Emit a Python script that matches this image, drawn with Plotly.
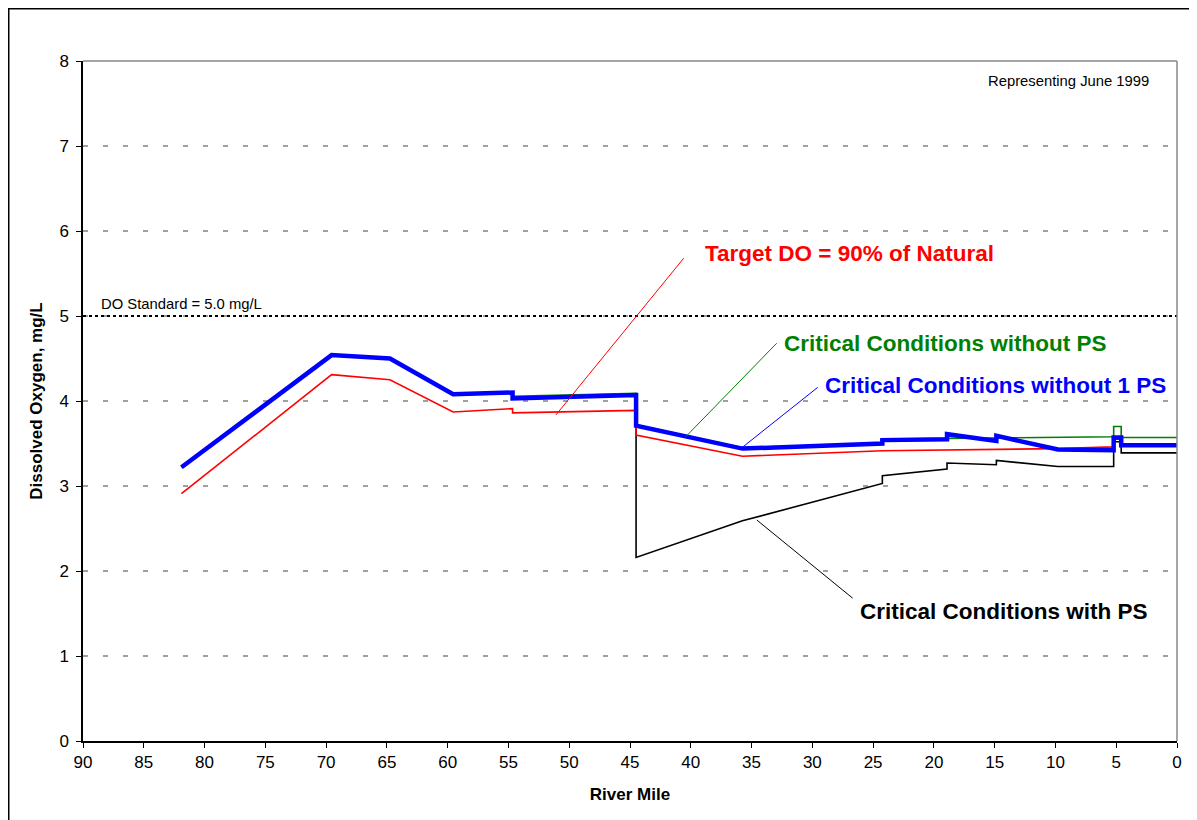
import plotly.graph_objects as go

# River mile / DO data
blue_mile = [81.9, 69.55, 64.75, 59.55, 54.66, 54.66, 44.5, 44.5, 35.75, 24.24, 24.24, 18.92, 18.92, 14.86, 14.86, 9.8, 5.21, 5.21, 4.59, 4.59, 0]
blue_do = [3.22, 4.54, 4.50, 4.08, 4.10, 4.03, 4.07, 3.71, 3.44, 3.50, 3.54, 3.55, 3.61, 3.53, 3.59, 3.43, 3.42, 3.57, 3.57, 3.48, 3.48]

green_mile = [81.9, 69.55, 64.75, 59.55, 54.66, 54.66, 44.5, 44.5, 35.75, 24.24, 24.24, 18.92, 5.21, 5.21, 4.59, 4.59, 0]
green_do = [3.22, 4.54, 4.50, 4.08, 4.10, 4.055, 4.09, 3.72, 3.45, 3.50, 3.54, 3.56, 3.58, 3.70, 3.70, 3.57, 3.57]

red_mile = [81.9, 69.55, 64.75, 59.55, 54.66, 54.66, 44.5, 44.5, 35.75, 24.24, 9.8, 5.21, 5.21, 4.59, 4.59, 0]
red_do = [2.91, 4.31, 4.25, 3.87, 3.91, 3.86, 3.89, 3.60, 3.35, 3.415, 3.44, 3.46, 3.55, 3.55, 3.47, 3.47]

black_mile = [44.5, 44.5, 35.75, 24.24, 24.24, 18.92, 18.92, 14.86, 14.86, 9.8, 5.21, 5.21, 4.59, 4.59, 0]
black_do = [3.68, 2.16, 2.59, 3.03, 3.12, 3.20, 3.27, 3.25, 3.30, 3.23, 3.23, 3.52, 3.52, 3.39, 3.39]

do_standard = 5.0
x_ticks = list(range(0, 91, 5))
y_ticks = list(range(0, 9))

FONT = "Liberation Sans, Arial, sans-serif"

fig = go.Figure()
fig.add_trace(go.Scatter(x=black_mile, y=black_do, mode="lines", line=dict(color="#000000", width=1.6), showlegend=False))
fig.add_trace(go.Scatter(x=red_mile, y=red_do, mode="lines", line=dict(color="#ff0000", width=1.6), showlegend=False))
fig.add_trace(go.Scatter(x=green_mile, y=green_do, mode="lines", line=dict(color="#008000", width=1.6), showlegend=False))
fig.add_trace(go.Scatter(x=blue_mile, y=blue_do, mode="lines", line=dict(color="#0000ff", width=4.5), showlegend=False))
fig.add_trace(go.Scatter(x=[90, 0], y=[do_standard, do_standard], mode="lines",
                         line=dict(color="#000000", width=2, dash="3px,3px"), showlegend=False))

# Outer frame (figure starts at page offset 8px)
fig.add_shape(type="rect", xref="paper", yref="paper",
              x0=(8.5 - 83) / 1094, x1=(1240 - 83) / 1094,
              y0=(741 - 860) / 680, y1=(741 - 8.5) / 680,
              line=dict(color="#000000", width=2), layer="below")
# top & right gray borders of plot area
fig.add_shape(type="line", xref="paper", yref="paper", x0=0, x1=1, y0=1, y1=1, line=dict(color="#888888", width=1.5))
fig.add_shape(type="line", xref="paper", yref="paper", x0=1, x1=1, y0=0, y1=1, line=dict(color="#888888", width=1.5))

def leader(x0, y0, x1, y1, color):
    fig.add_shape(type="line", x0=x0, y0=y0, x1=x1, y1=y1, line=dict(color=color, width=1))

leader(40.58, 5.68, 51.1, 3.835, "#ff0000")
leader(32.93, 4.68, 40.41, 3.58, "#008000")
leader(29.56, 4.16, 35.8, 3.45, "#0000ff")
leader(26.68, 1.68, 34.57, 2.60, "#000000")

def label(x, y, text, color, size=20, bold=True, xanchor="left"):
    fig.add_annotation(x=x, y=y, text=f"<b>{text}</b>" if bold else text, showarrow=False,
                       xanchor=xanchor, yanchor="middle",
                       font=dict(family=FONT, size=size, color=color))

label(39.0, 5.73, "Target DO = 90% of Natural", "#ff0000", 22.5)
label(32.52, 4.68, "Critical Conditions without PS", "#008000", 22.5)
label(29.14, 4.18, "Critical Conditions without 1 PS", "#0000ff", 22.5)
label(26.27, 1.52, "Critical Conditions with PS", "#000000", 22.5)
label(88.7, 5.14, "DO Standard = 5.0 mg/L", "#000000", 14.8, bold=False)
label(2.1, 7.76, "Representing June 1999", "#000000", 14.8, bold=False, xanchor="right")

fig.update_layout(
    width=1189, height=812,
    margin=dict(l=75, r=20, t=53, b=79),
    paper_bgcolor="white", plot_bgcolor="white",
    font=dict(family=FONT, color="#000000"),
    xaxis=dict(range=[90, 0], tickvals=x_ticks, showgrid=False, zeroline=False,
               showline=True, linecolor="#000000", linewidth=1.5,
               ticks="outside", ticklen=5, tickcolor="#000000",
               tickfont=dict(size=17, color="#000000"),
               title=dict(text="<b>River Mile</b>", font=dict(size=17), standoff=17)),
    yaxis=dict(range=[0, 8], tickvals=y_ticks, showgrid=True, gridcolor="#a0a0a0", gridwidth=1.5,
               griddash="5px,15px", zeroline=False,
               showline=True, linecolor="#000000", linewidth=1.5,
               ticks="outside", ticklen=5, tickcolor="#000000", ticklabelstandoff=4,
               tickfont=dict(size=17, color="#000000"),
               title=dict(text="<b>Dissolved Oxygen, mg/L</b>", font=dict(size=17), standoff=12)),
)

fig.write_html("out.html")
